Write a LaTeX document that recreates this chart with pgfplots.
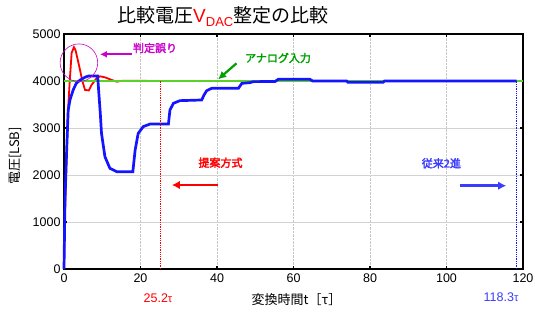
\documentclass[border=0pt]{standalone}
\usepackage{pgfplots}
\pgfplotsset{compat=1.18}
\usepackage{fontspec}
\setmainfont{Liberation Sans}
\newfontfamily\jp[AutoFakeBold=2.5]{Noto Sans CJK JP}
\usetikzlibrary{arrows.meta}
\definecolor{cred}{RGB}{255,0,0}
\definecolor{cblue}{RGB}{20,20,255}
\definecolor{cgreen}{RGB}{90,210,40}
\definecolor{tgreen}{RGB}{0,160,0}
\definecolor{cmag}{RGB}{204,0,204}
\definecolor{lblue}{RGB}{60,60,255}
\begin{document}
\begin{tikzpicture}
\begin{axis}[
  name=ax, at={(0,0)}, anchor=south west,
  scale only axis, width=459pt, height=235pt,
  xmin=0, xmax=120, ymin=0, ymax=5000,
  xtick={0,20,...,120}, ytick={0,1000,...,5000},
  scaled ticks=false,
  /pgf/number format/assume math mode=true,
  /pgf/number format/set thousands separator={},
  tick label style={font=\fontsize{12.5}{14}\selectfont},
  xticklabel style={yshift=-1pt},
  grid=major,
  x grid style={densely dotted, gray!45, line width=0.5pt},
  y grid style={gray!35, line width=0.7pt},
  tick align=inside,
  major tick length=3pt,
  tick style={black, line width=1.3pt},
  axis line style={black, line width=1.2pt},
  clip=false,
]
% proposed method (red)
\addplot[cred, line width=1.8pt] coordinates {
(0,0) (0.2,1000) (0.6,2200) (1.0,3300) (1.5,4000) (2.0,4600) (2.6,4720) (3.0,4660)
(3.6,4450) (4.2,4230) (4.8,4000) (5.5,3810) (6.5,3800) (7.2,3915) (8.5,4057)
(9.4,4100) (10.7,4078) (12.5,4021) (13.8,3986) (15.5,4006) (25.2,4000)
};
% analog input (green)
\addplot[cgreen, line width=1.1pt] coordinates {(0,4000) (120,4000)};
% conventional binary (blue)
\addplot[cblue, line width=2.7pt] coordinates {
(0,0) (0.26,1470) (0.7,2530) (1.1,3380) (1.57,3600) (2.4,3810) (3.2,3950) (4.2,4020)
(5.5,4080) (6.4,4106) (8.8,4106) (9.1,3750) (9.5,3300) (9.8,2890) (10.7,2390)
(12,2142) (13.8,2071) (18,2071) (18.6,2532) (19.4,2887) (20.7,3028) (22.5,3085)
(27.3,3085) (27.7,3383) (28.6,3525) (30.3,3582) (36,3596) (36.6,3700) (37.3,3794)
(38.6,3844) (45.6,3844) (46.5,3950) (48.6,3965) (49.5,3986) (55.2,3990) (56,4036)
(64.3,4036) (65,4000) (73.9,4000) (74.2,3975) (83.5,3975) (83.8,4000) (118.3,4000)
};
% settling markers
\addplot[cred, densely dotted, line width=1.3pt] coordinates {(25.2,0) (25.2,4000)};
\addplot[cblue, densely dotted, line width=1.3pt] coordinates {(118.3,0) (118.3,4000)};
% annotations
\draw[cmag, line width=0.6pt] (axis cs:3.9,4389) circle (18.8pt);
\draw[cmag, line width=2pt, -{Latex[length=7pt,width=7pt]}] (axis cs:17.7,4568) -- (axis cs:9.4,4568);
\node[anchor=west, text=cmag, inner sep=0pt, font=\jp\bfseries\fontsize{11}{12}\selectfont] at (axis cs:18.0,4702) {判定誤り};
\draw[tgreen, line width=2.2pt, -{Latex[length=8pt,width=8pt]}] (axis cs:45.1,4376) -- (axis cs:40.3,4036);
\node[anchor=west, text=tgreen, inner sep=0pt, font=\jp\bfseries\fontsize{11}{12}\selectfont] at (axis cs:47.3,4489) {アナログ入力};
\node[anchor=west, text=cred, inner sep=0pt, font=\jp\bfseries\fontsize{11}{12}\selectfont] at (axis cs:35.1,2262) {提案方式};
\draw[cred, line width=2.6pt, -{Latex[length=8pt,width=8.5pt]}] (axis cs:40.3,1787) -- (axis cs:28.2,1787);
\node[anchor=west, text=lblue, inner sep=0pt, font=\jp\bfseries\fontsize{11}{12}\selectfont] at (axis cs:93.5,2249) {従来2進};
\draw[lblue, line width=2.6pt, -{Latex[length=8pt,width=8.5pt]}] (axis cs:103.5,1772) -- (axis cs:115.6,1772);
\end{axis}
% title and labels
\node[anchor=west, inner sep=0pt, font=\fontsize{19}{22}\selectfont] at ([shift={(53pt,252pt)}]ax.south west)
  {{\jp 比較電圧}\textcolor{cred}{V\raisebox{-4pt}{\fontsize{13}{14}\selectfont DAC}}{\jp 整定の比較}};
\node[inner sep=0pt, font=\jp\fontsize{13}{15}\selectfont] at ([shift={(232.5pt,-31pt)}]ax.south west) {変換時間t［τ］};
\node[inner sep=0pt, rotate=90, font=\jp\fontsize{13}{15}\selectfont] at ([shift={(-49pt,113pt)}]ax.south west) {電圧[LSB]};
\node[inner sep=0pt, text=cred, font=\fontsize{12.5}{14}\selectfont] at ([shift={(94pt,-29pt)}]ax.south west) {25.2{\fontsize{11}{12}\selectfont τ}};
\node[inner sep=0pt, text=lblue, font=\fontsize{12.5}{14}\selectfont] at ([shift={(437pt,-28pt)}]ax.south west) {118.3{\fontsize{11}{12}\selectfont τ}};
\pgfresetboundingbox
\path[use as bounding box] ([shift={(-64pt,-43pt)}]ax.south west) rectangle ([shift={(471pt,269pt)}]ax.south west);
\end{tikzpicture}
\end{document}
